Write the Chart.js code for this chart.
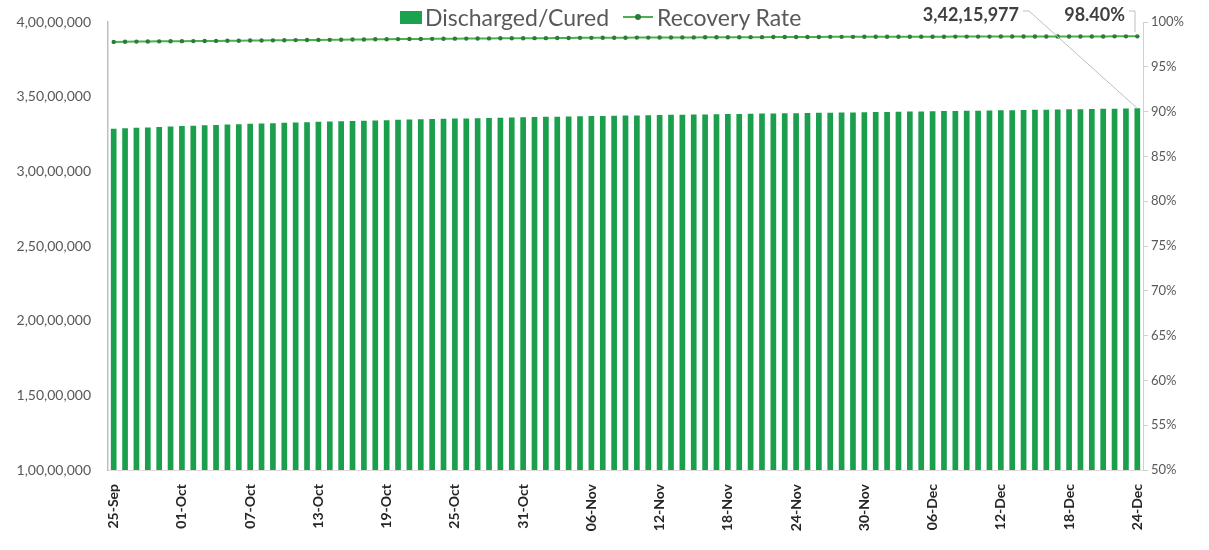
<!DOCTYPE html>
<html>
<head>
<meta charset="utf-8">
<script src="https://cdn.jsdelivr.net/npm/chart.js@4.4.1/dist/chart.umd.min.js"></script>
<style>
  html,body{margin:0;padding:0;background:#fff;}
  #wrap{position:relative;width:1209px;height:550px;}
  #legend{position:absolute;top:3px;left:400px;display:flex;align-items:center;font-family:Lato,"Open Sans",sans-serif;font-size:23px;color:#595959;}
  .lg-box{display:inline-block;width:22px;height:13px;background:#1aa24e;margin-right:3px;}
  .lg-line{display:inline-block;position:relative;width:30px;height:2px;background:#4db04f;margin:0 4px 0 14px;}
  .lg-line:after{content:'';position:absolute;left:12px;top:-2px;width:6px;height:6px;border-radius:50%;background:#2c7a3c;}
</style>
</head>
<body>
<div id="wrap">
  <canvas id="c" width="1209" height="550"></canvas>
  <div id="legend"><span class="lg-box"></span>Discharged/Cured<span class="lg-line"></span>Recovery Rate</div>
</div>
<script>
// Cumulative discharged / cured, in thousands (25-Sep .. 24-Dec)
const labels=[
  '25-Sep','26-Sep','27-Sep','28-Sep','29-Sep','30-Sep',
  '01-Oct','02-Oct','03-Oct','04-Oct','05-Oct','06-Oct','07-Oct','08-Oct','09-Oct','10-Oct',
  '11-Oct','12-Oct','13-Oct','14-Oct','15-Oct','16-Oct','17-Oct','18-Oct','19-Oct','20-Oct',
  '21-Oct','22-Oct','23-Oct','24-Oct','25-Oct','26-Oct','27-Oct','28-Oct','29-Oct','30-Oct','31-Oct',
  '01-Nov','02-Nov','03-Nov','04-Nov','05-Nov','06-Nov','07-Nov','08-Nov','09-Nov','10-Nov',
  '11-Nov','12-Nov','13-Nov','14-Nov','15-Nov','16-Nov','17-Nov','18-Nov','19-Nov','20-Nov',
  '21-Nov','22-Nov','23-Nov','24-Nov','25-Nov','26-Nov','27-Nov','28-Nov','29-Nov','30-Nov',
  '01-Dec','02-Dec','03-Dec','04-Dec','05-Dec','06-Dec','07-Dec','08-Dec','09-Dec','10-Dec',
  '11-Dec','12-Dec','13-Dec','14-Dec','15-Dec','16-Dec','17-Dec','18-Dec','19-Dec','20-Dec',
  '21-Dec','22-Dec','23-Dec','24-Dec'
];
const dischargedK=[
  32850,32882,32913,32943,32973,33002,
  33030,33057,33083,33109,33134,33158,33182,33205,33228,33250,
  33272,33293,33314,33334,33354,33373,33392,33411,33429,33447,
  33464,33481,33498,33514,33530,33546,33561,33576,33591,33605,33619,
  33633,33647,33660,33673,33686,33699,33711,33723,33735,33747,
  33759,33770,33781,33792,33803,33814,33825,33835,33845,33855,
  33865,33875,33885,33895,33905,33915,33925,33935,33945,33955,
  33966,33977,33988,33999,34010,34021,34032,34043,34054,34065,
  34076,34087,34098,34109,34120,34131,34142,34153,34164,34175,
  34186,34197,34207,34215.977
];
const recoveryRate=[
  97.78,97.80,97.81,97.83,97.84,97.85,
  97.86,97.87,97.88,97.89,97.90,97.91,97.93,97.94,97.95,97.96,
  97.98,97.99,98.00,98.01,98.02,98.04,98.05,98.07,98.08,98.09,
  98.10,98.11,98.12,98.13,98.14,98.15,98.16,98.17,98.18,98.19,98.19,
  98.20,98.20,98.21,98.22,98.23,98.23,98.24,98.25,98.25,98.26,
  98.26,98.27,98.27,98.28,98.28,98.29,98.29,98.30,98.30,98.31,
  98.31,98.32,98.32,98.33,98.33,98.33,98.34,98.34,98.34,98.35,
  98.35,98.35,98.35,98.36,98.36,98.36,98.36,98.37,98.37,98.37,
  98.37,98.38,98.38,98.38,98.38,98.38,98.39,98.39,98.39,98.39,
  98.39,98.40,98.40,98.40
];
const lastLabels=['3,42,15,977','98.40%'];

function inr(v){ // Indian digit grouping
  const s=String(Math.round(v));
  if(s.length<=3)return s;
  const last=s.slice(-3);let rest=s.slice(0,-3);
  return rest.replace(/\B(?=(\d{2})+(?!\d))/g,',')+','+last;
}

const FONT='Lato, "Open Sans", sans-serif';
const GREEN='#1b9f4d';

const lastLabelPlugin={
  id:'lastLabel',
  afterDatasetsDraw(chart){
    const {ctx,chartArea,scales}=chart;
    const i=labels.length-1;
    const x=scales.x.getPixelForValue(i);
    const yBar=scales.y.getPixelForValue(dischargedK[i]*1000);
    const yLine=scales.y1.getPixelForValue(recoveryRate[i]);
    ctx.save();
    ctx.font='bold 18px '+FONT;
    ctx.fillStyle='#404040';
    ctx.textAlign='right';ctx.textBaseline='middle';
    const ty=15;
    const r1=chartArea.right-124, r2=chartArea.right-18;
    ctx.fillText(lastLabels[0],r1,ty);
    ctx.fillText(lastLabels[1],r2,ty);
    ctx.strokeStyle='#bfbfbf';ctx.lineWidth=1;
    ctx.beginPath();
    ctx.moveTo(r1+4,ty-4);ctx.lineTo(r1+10,ty-4);ctx.lineTo(x,yBar);
    ctx.moveTo(r2+4,ty-4);ctx.lineTo(r2+10,ty-4);ctx.lineTo(r2+10,yLine-4);
    ctx.stroke();
    ctx.restore();
  }
};

new Chart(document.getElementById('c'),{
  data:{
    labels,
    datasets:[
      {type:'line',label:'Recovery Rate',data:recoveryRate,yAxisID:'y1',
        borderColor:'#4db04f',borderWidth:2,pointRadius:2.2,pointBackgroundColor:'#2c7a3c',
        pointBorderWidth:0,tension:0,order:0},
      {type:'bar',label:'Discharged/Cured',data:dischargedK.map(v=>v*1000),yAxisID:'y',
        backgroundColor:GREEN,barPercentage:0.5,categoryPercentage:1,order:1}
    ]
  },
  options:{
    responsive:false,animation:false,
    layout:{padding:{top:22,left:0,right:0,bottom:0}},
    plugins:{legend:{display:false},tooltip:{enabled:false}},
    scales:{
      x:{
        offset:true,
        grid:{display:false},
        border:{display:true,color:'#e3d9d9'},
        ticks:{autoSkip:false,maxRotation:90,minRotation:90,padding:6,
          color:'#262626',font:{family:FONT,size:14,weight:'bold'},
          callback:(v,i)=>i%6===0?labels[i]:''},
        afterFit:a=>{a.height=80;}
      },
      y:{
        position:'left',min:10000000,max:40000000,
        grid:{display:false},
        border:{display:true,color:'#bfbfbf',width:1.5},
        ticks:{stepSize:5000000,padding:9,color:'#595959',font:{family:FONT,size:14},
          callback:v=>inr(v)},
        afterFit:a=>{a.width=108;}
      },
      y1:{
        position:'right',min:50,max:100,
        grid:{display:true,drawOnChartArea:false,tickLength:5,color:'#d0d0d0'},
        border:{display:true,color:'#d0d0d0'},
        ticks:{stepSize:5,padding:3,color:'#595959',font:{family:FONT,size:13},
          callback:v=>v+'%'},
        afterFit:a=>{a.width=66;}
      }
    }
  },
  plugins:[lastLabelPlugin]
});
</script>
</body>
</html>
